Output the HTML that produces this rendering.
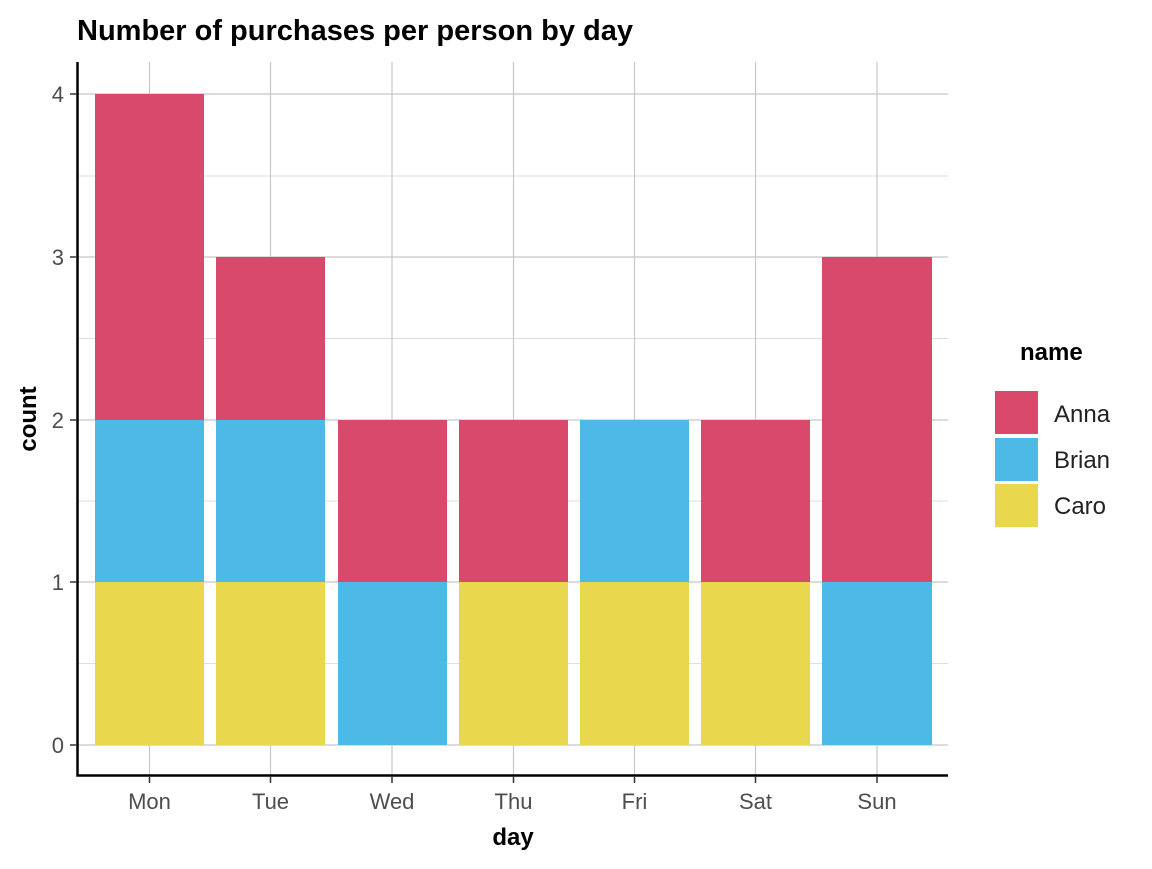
<!DOCTYPE html>
<html><head><style>body{margin:0;background:#fff}</style></head><body>
<svg width="1152" height="864" xmlns="http://www.w3.org/2000/svg" font-family="Liberation Sans, Arial, sans-serif">
<rect width="1152" height="864" fill="#fff"/>
<g stroke="#dedede" stroke-width="1">
<line x1="77" x2="948" y1="663.5" y2="663.5"/><line x1="77" x2="948" y1="501" y2="501"/><line x1="77" x2="948" y1="338.5" y2="338.5"/><line x1="77" x2="948" y1="176" y2="176"/>
</g>
<g stroke="#c8c8c8" stroke-width="1.2">
<line x1="77" x2="948" y1="745" y2="745"/><line x1="77" x2="948" y1="582" y2="582"/><line x1="77" x2="948" y1="420" y2="420"/><line x1="77" x2="948" y1="257" y2="257"/><line x1="77" x2="948" y1="94" y2="94"/>
<line x1="149.5" x2="149.5" y1="62" y2="775"/><line x1="270.5" x2="270.5" y1="62" y2="775"/><line x1="392" x2="392" y1="62" y2="775"/><line x1="513.5" x2="513.5" y1="62" y2="775"/><line x1="634.5" x2="634.5" y1="62" y2="775"/><line x1="755.5" x2="755.5" y1="62" y2="775"/><line x1="877" x2="877" y1="62" y2="775"/>
</g>
<g>
<rect x="95" y="582" width="109" height="163" fill="#E9D74E"/><rect x="95" y="420" width="109" height="162" fill="#4CB9E6"/><rect x="95" y="94" width="109" height="326" fill="#D8496B"/>
<rect x="216" y="582" width="109" height="163" fill="#E9D74E"/><rect x="216" y="420" width="109" height="162" fill="#4CB9E6"/><rect x="216" y="257" width="109" height="163" fill="#D8496B"/>
<rect x="338" y="582" width="109" height="163" fill="#4CB9E6"/><rect x="338" y="420" width="109" height="162" fill="#D8496B"/>
<rect x="459" y="582" width="109" height="163" fill="#E9D74E"/><rect x="459" y="420" width="109" height="162" fill="#D8496B"/>
<rect x="580" y="582" width="109" height="163" fill="#E9D74E"/><rect x="580" y="420" width="109" height="162" fill="#4CB9E6"/>
<rect x="701" y="582" width="109" height="163" fill="#E9D74E"/><rect x="701" y="420" width="109" height="162" fill="#D8496B"/>
<rect x="822" y="582" width="110" height="163" fill="#4CB9E6"/><rect x="822" y="257" width="110" height="325" fill="#D8496B"/>
</g>
<g stroke="#000" stroke-width="2.5" fill="none">
<polyline points="77.5,62 77.5,775.5 948,775.5"/>
</g>
<g stroke="#333" stroke-width="1.5">
<line x1="70" x2="77" y1="745" y2="745"/><line x1="70" x2="77" y1="582" y2="582"/><line x1="70" x2="77" y1="420" y2="420"/><line x1="70" x2="77" y1="257" y2="257"/><line x1="70" x2="77" y1="94" y2="94"/>
<line x1="149.5" x2="149.5" y1="776" y2="783"/><line x1="270.5" x2="270.5" y1="776" y2="783"/><line x1="392" x2="392" y1="776" y2="783"/><line x1="513.5" x2="513.5" y1="776" y2="783"/><line x1="634.5" x2="634.5" y1="776" y2="783"/><line x1="755.5" x2="755.5" y1="776" y2="783"/><line x1="877" x2="877" y1="776" y2="783"/>
</g>
<g font-size="22" fill="#4d4d4d" text-anchor="end">
<text x="64" y="753">0</text><text x="64" y="590">1</text><text x="64" y="428">2</text><text x="64" y="265">3</text><text x="64" y="102">4</text>
</g>
<g font-size="22" fill="#4d4d4d" text-anchor="middle">
<text x="149.5" y="809">Mon</text><text x="270.5" y="809">Tue</text><text x="392" y="809">Wed</text><text x="513.5" y="809">Thu</text><text x="634.5" y="809">Fri</text><text x="755.5" y="809">Sat</text><text x="877" y="809">Sun</text>
</g>
<text x="513" y="845" font-size="24" font-weight="bold" text-anchor="middle">day</text>
<text transform="translate(36,419) rotate(-90)" font-size="24" font-weight="bold" text-anchor="middle">count</text>
<text x="77" y="40" font-size="29" font-weight="bold">Number of purchases per person by day</text>
<text x="1020" y="360" font-size="24" font-weight="bold">name</text>
<rect x="995" y="391" width="43" height="43" fill="#D8496B"/>
<rect x="995" y="438" width="43" height="43" fill="#4CB9E6"/>
<rect x="995" y="484" width="43" height="43" fill="#E9D74E"/>
<g font-size="24" fill="#222">
<text x="1054" y="422">Anna</text><text x="1054" y="468">Brian</text><text x="1054" y="514">Caro</text>
</g>
</svg>
</body></html>
